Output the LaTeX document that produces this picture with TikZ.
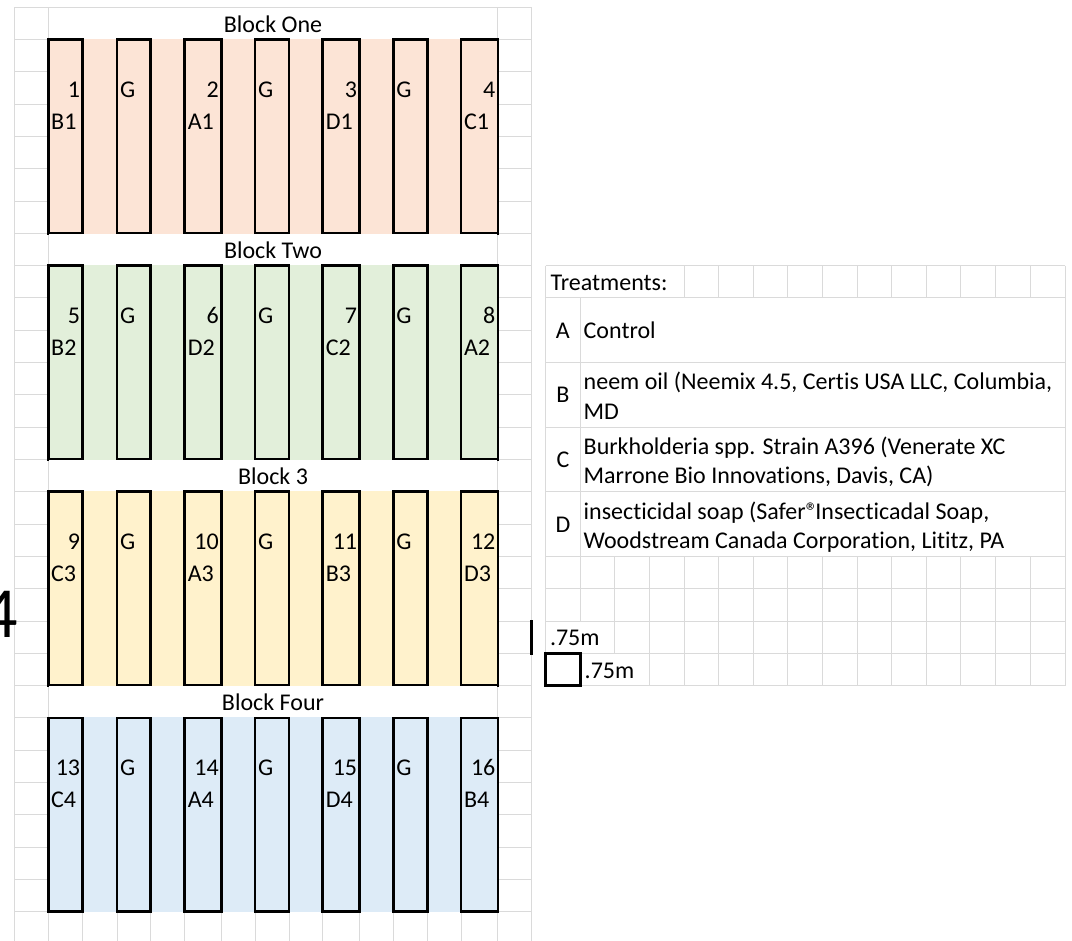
\documentclass[tikz,border=0pt]{standalone}
\usepackage{fontspec}
\setmainfont{Carlito}[Ligatures=NoCommon]
\definecolor{pk}{HTML}{FCE4D6}
\definecolor{gn}{HTML}{E2EFDA}
\definecolor{yl}{HTML}{FFF2CC}
\definecolor{bl}{HTML}{DDEBF7}
\definecolor{gridc}{HTML}{DADADA}
\tikzset{
  gridline/.style={draw=gridc, line width=1pt},
  plotbox/.style={draw=black, line width=2.7pt, inner sep=0pt, outer sep=0pt},
  txt/.style={inner sep=0pt, outer sep=0pt, font=\fontsize{24}{29}\selectfont},
  bigtxt/.style={inner sep=0pt, outer sep=0pt, font=\fontsize{72}{80}\selectfont},
}
\begin{document}
\begin{tikzpicture}[x=1pt,y=-1pt]
\useasboundingbox (0,0) rectangle (1072,941);
\fill[white] (0,0) rectangle (1072,941);
% ---------- left grid ----------
\foreach \x in {14.5,48.2,82.6,117,150.7,184.8,221.3,255,289,322.8,359.6,393.3,427.7,461.1,497.9,531.7}
  \draw[gridline] (\x,7.3) -- (\x,941);
\foreach \k in {0,...,28}
  \draw[gridline] (14.5,{7.3+32.3*\k}) -- (531.7,{7.3+32.3*\k});
% ---------- blocks ----------
\foreach \b/\fc/\ttl/\la/\lb/\lc/\ld in {0/pk/Block One/B1/A1/D1/C1,1/gn/Block Two/B2/D2/C2/A2,2/yl/Block 3/C3/A3/B3/D3,3/bl/Block Four/C4/A4/D4/B4}{
  \pgfmathsetmacro\ya{7.3+32.3*7*\b}
  \pgfmathsetmacro\yb{\ya+32.3}
  \pgfmathsetmacro\yc{\ya+32.3*7}
  \pgfmathsetmacro\ym{(\yb+\yc)/2}
  \pgfmathsetmacro\ynum{\yb+32.3*2-7}
  \pgfmathsetmacro\ylab{\yb+32.3*3-7}
  \fill[white] (48.7,{\ya+0.6}) rectangle (497.4,\yb);
  \fill[\fc] (48.2,{\yb-0.5}) rectangle (497.9,{\yc+0.5});
  \node[txt, anchor=base] (title\b) at (273,{\yb-7}) {\ttl};
  \foreach \i/\xl/\xr/\lab in {1/48.2/82.6/\la,2/184.8/221.3/\lb,3/322.8/359.6/\lc,4/461.1/497.9/\ld}{
    \pgfmathtruncatemacro\n{4*\b+\i}
    \node[plotbox, minimum width={\xr-\xl}, minimum height={\yc-\yb}] (p\n) at ({(\xl+\xr)/2},\ym) {};
    \node[txt, anchor=base east] (n\n) at ({\xr-2.5},\ynum) {\n};
    \node[txt, anchor=base west] (l\n) at ({\xl+3},\ylab) {\lab};
  }
  \foreach \j/\xl/\xr in {1/117/150.7,2/255/289,3/393.3/427.7}{
    \node[plotbox, minimum width={\xr-\xl}, minimum height={\yc-\yb}] (g\b\j) at ({(\xl+\xr)/2},\ym) {};
    \node[txt, anchor=base west] (gt\b\j) at ({\xl+3},\ynum) {G};
  }
}
\node[bigtxt, anchor=base west] (four) at (-18,637) {4};
% ---------- right table ----------
\foreach \k in {8,9,11,13,15,17,18,19,20,21}
  \draw[gridline] (545.6,{7.3+32.3*\k}) -- (1065,{7.3+32.3*\k});
\draw[gridline] (545.6,{7.3+32.3*8}) -- (545.6,{7.3+32.3*21});
\draw[gridline] (1065,{7.3+32.3*8}) -- (1065,{7.3+32.3*21});
\foreach \j in {4,...,14}
  \draw[gridline] ({545.6+34.6*\j},{7.3+32.3*8}) -- ({545.6+34.6*\j},{7.3+32.3*9});
\draw[gridline] (580.2,{7.3+32.3*9}) -- (580.2,{7.3+32.3*17});
\foreach \j in {1,...,14}
  \draw[gridline] ({545.6+34.6*\j},{7.3+32.3*17}) -- ({545.6+34.6*\j},{7.3+32.3*19});
\foreach \j in {2,...,14}
  \draw[gridline] ({545.6+34.6*\j},{7.3+32.3*19}) -- ({545.6+34.6*\j},{7.3+32.3*20});
\foreach \j in {1,3,4,...,14}
  \draw[gridline] ({545.6+34.6*\j},{7.3+32.3*20}) -- ({545.6+34.6*\j},{7.3+32.3*21});
% texts
\node[txt, anchor=base west] (treat) at (550.6,291) {Treatments:};
\node[txt, anchor=base] (ka) at (562.9,338.3) {A};
\node[txt, anchor=base west] (ta) at (583.7,338.3) {Control};
\node[txt, anchor=base] (kb) at (562.9,402.9) {B};
\node[txt, anchor=base west] (tb1) at (583.7,389.9) {neem oil (Neemix 4.5, Certis USA LLC, Columbia,};
\node[txt, anchor=base west] (tb2) at (583.7,419.2) {MD};
\node[txt, anchor=base] (kc) at (562.9,467.5) {C};
\node[txt, anchor=base west] (tc1) at (583.7,454.5) {Burkholderia spp. Strain A396 (Venerate XC};
\node[txt, anchor=base west] (tc2) at (583.7,483.8) {Marrone Bio Innovations, Davis, CA)};
\node[txt, anchor=base] (kd) at (562.9,532.1) {D};
\node[txt, anchor=base west] (td1) at (583.7,519.1) {insecticidal soap (Safer®\kern-2.5pt Insecticadal Soap,};
\node[txt, anchor=base west] (td2) at (583.7,548.4) {Woodstream Canada Corporation, Lititz, PA};
% scale legend
\node[txt, anchor=base west] (m1) at (550,645.4) {.75m};
\node[txt, anchor=base west] (m2) at (584.7,678.3) {.75m};
\node[plotbox, minimum width=34.6, minimum height=32.3] (sq) at (562.9,669.45) {};
\coordinate (bt) at (531.7,620);
\coordinate (bb) at (531.7,654.5);
\draw[line width=2.7pt] (bt) -- (bb);
\end{tikzpicture}
\end{document}
